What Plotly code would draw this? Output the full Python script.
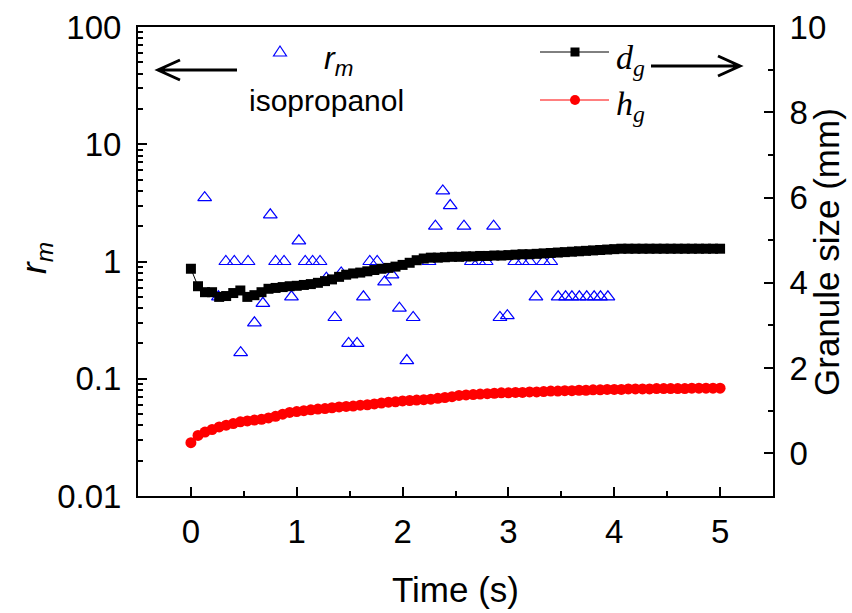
import plotly.graph_objects as go

# ---------------- data ----------------
time_s = [0.000, 0.067, 0.133, 0.200, 0.267, 0.333, 0.400, 0.467, 0.533, 0.600,
          0.667, 0.733, 0.800, 0.867, 0.933, 1.000, 1.067, 1.133, 1.200, 1.267,
          1.333, 1.400, 1.467, 1.533, 1.600, 1.667, 1.733, 1.800, 1.867, 1.933,
          2.000, 2.067, 2.133, 2.200, 2.267, 2.333, 2.400, 2.467, 2.533, 2.600,
          2.667, 2.733, 2.800, 2.867, 2.933, 3.000, 3.067, 3.133, 3.200, 3.267,
          3.333, 3.400, 3.467, 3.533, 3.600, 3.667, 3.733, 3.800, 3.867, 3.933,
          4.000, 4.067, 4.133, 4.200, 4.267, 4.333, 4.400, 4.467, 4.533, 4.600,
          4.667, 4.733, 4.800, 4.867, 4.933, 5.000]

d_g = [4.33, 3.92, 3.78, 3.78, 3.67, 3.69, 3.76, 3.82, 3.67, 3.71,
       3.78, 3.86, 3.88, 3.90, 3.92, 3.93, 3.95, 3.97, 4.00, 4.04,
       4.08, 4.14, 4.19, 4.22, 4.24, 4.27, 4.30, 4.33, 4.35, 4.38,
       4.42, 4.47, 4.53, 4.57, 4.59, 4.59, 4.60, 4.61, 4.61, 4.62,
       4.62, 4.63, 4.63, 4.64, 4.64, 4.65, 4.66, 4.67, 4.67, 4.68,
       4.69, 4.70, 4.71, 4.72, 4.73, 4.74, 4.75, 4.76, 4.77, 4.78,
       4.79, 4.80, 4.80, 4.80, 4.80, 4.80, 4.80, 4.80, 4.80, 4.80,
       4.80, 4.80, 4.80, 4.80, 4.80, 4.80]

h_g = [0.25, 0.42, 0.50, 0.56, 0.62, 0.66, 0.70, 0.74, 0.76, 0.78,
       0.80, 0.83, 0.87, 0.92, 0.96, 0.98, 1.00, 1.02, 1.04, 1.05,
       1.07, 1.09, 1.10, 1.11, 1.13, 1.14, 1.16, 1.18, 1.20, 1.21,
       1.23, 1.24, 1.25, 1.26, 1.27, 1.29, 1.31, 1.33, 1.36, 1.37,
       1.38, 1.39, 1.40, 1.41, 1.42, 1.42, 1.43, 1.43, 1.44, 1.44,
       1.45, 1.46, 1.46, 1.47, 1.47, 1.48, 1.48, 1.49, 1.49, 1.50,
       1.50, 1.50, 1.51, 1.51, 1.51, 1.51, 1.52, 1.52, 1.52, 1.52,
       1.52, 1.53, 1.53, 1.53, 1.53, 1.53]

rm_time = [0.13, 0.26, 0.33, 0.41, 0.47, 0.54, 0.60, 0.68, 0.75, 0.80,
           0.88, 0.95, 1.02, 1.08, 1.15, 1.22, 1.28, 1.36, 1.42, 1.49,
           1.57, 1.63, 1.69, 1.76, 1.83, 1.90, 1.97, 2.04, 2.10, 2.25,
           2.31, 2.38, 2.45, 2.58, 2.65, 2.72, 2.79, 2.86, 2.92, 2.99,
           3.06, 3.13, 3.20, 3.26, 3.33, 3.40, 3.47, 3.54, 3.60, 3.67,
           3.74, 3.81, 3.87, 3.94]
rm_val = [3.5, 0.5, 1.0, 1.0, 0.167, 1.0, 0.3, 0.44, 2.5, 1.0,
          1.0, 0.5, 1.5, 1.0, 1.0, 1.0, 0.72, 0.333, 0.8, 0.2,
          0.2, 0.5, 1.0, 1.0, 0.67, 0.77, 0.4, 0.143, 0.333, 1.0,
          2.0, 4.0, 3.0, 2.0, 1.0, 1.0, 1.0, 2.0, 0.333, 0.345,
          1.0, 1.0, 1.0, 0.5, 1.0, 1.0, 0.5, 0.5, 0.5, 0.5,
          0.5, 0.5, 0.5, 0.5]

x_ticks = [0, 1, 2, 3, 4, 5]
y_ticks = [0.01, 0.1, 1, 10, 100]
y_ticklabels = ["0.01", "0.1", "1", "10", "100"]
y2_ticks = [0, 2, 4, 6, 8, 10]

# ---------------- geometry ----------------
W, H = 852, 613
L, R, T, B = 138, 773, 27, 496
pw, ph = R - L, B - T

def px(x):
    return (x - L) / pw

def py(y):
    return (B - y) / ph

SANS = "Liberation Sans, Arial, sans-serif"
SERIF = "Liberation Serif, Times New Roman, serif"
TICKFONT = dict(family=SANS, size=33, color="black")

fig = go.Figure()

fig.add_trace(go.Scatter(
    x=rm_time, y=rm_val, mode="markers", name="r_m",
    marker=dict(symbol="triangle-up-open", size=12, color="#0000ff",
                line=dict(width=1.2, color="#0000ff")),
    yaxis="y", showlegend=False))

fig.add_trace(go.Scatter(
    x=time_s, y=d_g, mode="lines+markers", name="d_g",
    line=dict(color="black", width=1),
    marker=dict(symbol="square", size=10, color="black"),
    yaxis="y2", showlegend=False))

fig.add_trace(go.Scatter(
    x=time_s, y=h_g, mode="lines+markers", name="h_g",
    line=dict(color="red", width=1),
    marker=dict(symbol="circle", size=11, color="red"),
    yaxis="y2", showlegend=False))

fig.update_layout(
    template="none",
    width=W, height=H, autosize=False,
    margin=dict(l=L, r=W - R, t=T, b=H - B, pad=0),
    paper_bgcolor="white", plot_bgcolor="white",
    xaxis=dict(
        automargin=False,
        range=[-0.5, 5.5], tickvals=x_ticks, ticks="inside", ticklen=9, tickwidth=2,
        tickcolor="black", showline=True, linewidth=2, linecolor="black",
        mirror=True, showgrid=False, zeroline=False, tickfont=TICKFONT,
        ticklabelstandoff=5,
        minor=dict(dtick=0.5, ticks="inside", ticklen=5, tickwidth=2, tickcolor="black",
                   showgrid=False),
    ),
    yaxis=dict(
        automargin=False,
        type="log", range=[-2, 2], tickvals=y_ticks, ticktext=y_ticklabels,
        ticks="inside", ticklen=9, tickwidth=2, tickcolor="black",
        showline=True, linewidth=2, linecolor="black", mirror=False,
        showgrid=False, zeroline=False, tickfont=TICKFONT, ticklabelstandoff=8,
        minor=dict(ticks="inside", ticklen=5, tickwidth=2, tickcolor="black",
                   dtick="D1", showgrid=False),
    ),
    yaxis2=dict(
        automargin=False,
        overlaying="y", side="right", range=[-1, 10], tickvals=y2_ticks,
        ticks="inside", ticklen=9, tickwidth=2, tickcolor="black",
        showline=True, linewidth=2, linecolor="black", showgrid=False,
        zeroline=False, tickfont=TICKFONT, ticklabelstandoff=8,
        minor=dict(dtick=1, ticks="inside", ticklen=5, tickwidth=2, tickcolor="black",
                   showgrid=False),
    ),
)

# ---------------- legend / key / titles (paper coordinates) ----------------
shapes = []
annots = []

def text(x, y, s, font, size, xanchor="center", angle=0):
    annots.append(dict(x=px(x), y=py(y), xref="paper", yref="paper", showarrow=False,
                       xanchor=xanchor, yanchor="middle", text=s, textangle=angle,
                       font=dict(family=font, size=size, color="black")))

# axis titles
text(455, 589, "Time (s)", SANS, 35)
text(36, 258, "<i>r<sub>m</sub></i>", SANS, 35, angle=-90)
text(826, 252, "Granule size (mm)", SANS, 35, angle=-90)

# left arrow
ay = 70
shapes.append(dict(type="path", xref="paper", yref="paper",
                   path=f"M {px(158)},{py(ay)} L {px(237)},{py(ay)} "
                        f"M {px(180)},{py(ay-10)} L {px(158)},{py(ay)} L {px(180)},{py(ay+10)}",
                   line=dict(color="black", width=3)))
# right arrow
ay2 = 66
shapes.append(dict(type="path", xref="paper", yref="paper",
                   path=f"M {px(651)},{py(ay2)} L {px(740)},{py(ay2)} "
                        f"M {px(718)},{py(ay2-10)} L {px(740)},{py(ay2)} L {px(718)},{py(ay2+10)}",
                   line=dict(color="black", width=3)))

# triangle symbol for r_m
tx, ty = 280, 52
shapes.append(dict(type="path", xref="paper", yref="paper",
                   path=f"M {px(tx-6.5)},{py(ty+4)} L {px(tx+6.5)},{py(ty+4)} L {px(tx)},{py(ty-6)} Z",
                   fillcolor="rgba(0,0,0,0)",
                   line=dict(color="#0000ff", width=1.2)))
text(338, 60, "<i>r<sub>m</sub></i>", SANS, 32)
text(326, 100, "isopropanol", SANS, 30)

# d_g / h_g key
ky1, ky2 = 52, 100
shapes.append(dict(type="line", xref="paper", yref="paper", x0=px(540), x1=px(609),
                   y0=py(ky1), y1=py(ky1), line=dict(color="black", width=1)))
shapes.append(dict(type="rect", xref="paper", yref="paper", x0=px(570.5), x1=px(579.5),
                   y0=py(ky1 - 4.5), y1=py(ky1 + 4.5), fillcolor="black",
                   line=dict(color="black", width=0)))
shapes.append(dict(type="line", xref="paper", yref="paper", x0=px(540), x1=px(609),
                   y0=py(ky2), y1=py(ky2), line=dict(color="red", width=1)))
shapes.append(dict(type="circle", xref="paper", yref="paper", x0=px(570), x1=px(580),
                   y0=py(ky2 - 5), y1=py(ky2 + 5), fillcolor="red",
                   line=dict(color="red", width=0)))
text(614, 60, "<i>d<sub>g</sub></i>", SERIF, 34, xanchor="left")
text(614, 106, "<i>h<sub>g</sub></i>", SERIF, 34, xanchor="left")

fig.update_layout(shapes=shapes, annotations=annots)

fig.write_html("out.html")
